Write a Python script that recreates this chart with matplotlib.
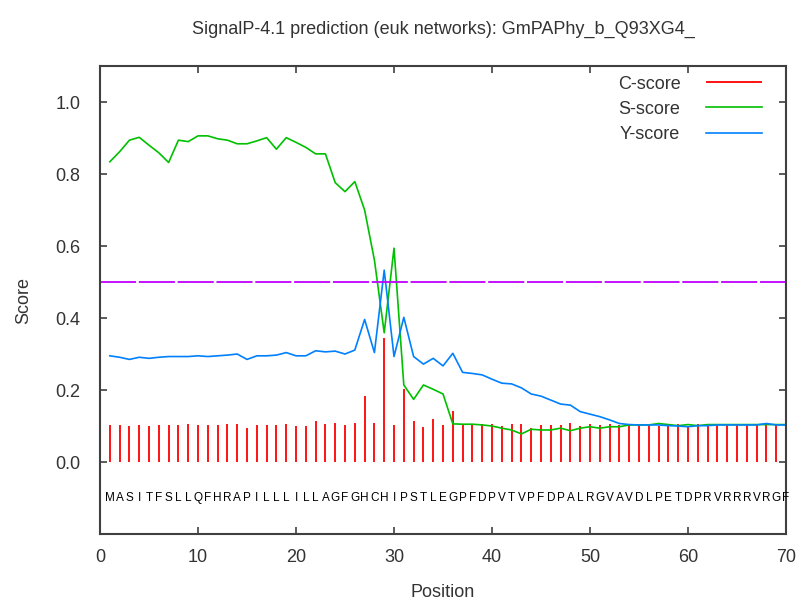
import matplotlib
matplotlib.use("Agg")
import matplotlib.pyplot as plt

plt.rcParams['font.family'] = ['Liberation Sans', 'DejaVu Sans']

title = "SignalP-4.1 prediction (euk networks): GmPAPhy_b_Q93XG4_"
sequence = "MASITFSLLQFHRAPILLLILLAGFGHCHIPSTLEGPFDPVTVPFDPALRGVAVDLPETDPRVRRRVRGF"
positions = list(range(1, 71))

c_score = [0.102, 0.102, 0.099, 0.102, 0.099, 0.102, 0.102, 0.102, 0.105, 0.102,
           0.102, 0.102, 0.105, 0.105, 0.094, 0.102, 0.102, 0.102, 0.105, 0.099,
           0.101, 0.114, 0.106, 0.109, 0.102, 0.109, 0.184, 0.109, 0.344, 0.102,
           0.203, 0.114, 0.098, 0.119, 0.102, 0.142, 0.102, 0.104, 0.106, 0.106,
           0.101, 0.106, 0.106, 0.094, 0.103, 0.103, 0.103, 0.109, 0.100, 0.106,
           0.103, 0.106, 0.103, 0.103, 0.106, 0.103, 0.101, 0.106, 0.106, 0.101,
           0.106, 0.101, 0.103, 0.103, 0.103, 0.103, 0.103, 0.109, 0.103, 0.104]

s_score = [0.834, 0.862, 0.894, 0.902, 0.880, 0.859, 0.832, 0.894, 0.890, 0.906,
           0.906, 0.898, 0.894, 0.884, 0.884, 0.892, 0.901, 0.869, 0.901, 0.888,
           0.874, 0.856, 0.856, 0.776, 0.751, 0.779, 0.700, 0.561, 0.359, 0.594,
           0.214, 0.174, 0.214, 0.202, 0.189, 0.106, 0.105, 0.105, 0.103, 0.100,
           0.094, 0.089, 0.078, 0.091, 0.089, 0.089, 0.094, 0.087, 0.094, 0.098,
           0.094, 0.098, 0.098, 0.103, 0.103, 0.103, 0.107, 0.104, 0.101, 0.104,
           0.101, 0.104, 0.104, 0.104, 0.104, 0.104, 0.104, 0.104, 0.104, 0.104]

y_score = [0.295, 0.291, 0.285, 0.291, 0.288, 0.291, 0.293, 0.293, 0.293, 0.295,
           0.293, 0.295, 0.297, 0.300, 0.285, 0.295, 0.295, 0.297, 0.304, 0.295,
           0.295, 0.309, 0.306, 0.308, 0.300, 0.311, 0.396, 0.304, 0.533, 0.293,
           0.402, 0.293, 0.272, 0.288, 0.267, 0.302, 0.249, 0.246, 0.242, 0.230,
           0.219, 0.217, 0.206, 0.189, 0.183, 0.172, 0.161, 0.158, 0.140, 0.133,
           0.126, 0.117, 0.107, 0.104, 0.103, 0.103, 0.103, 0.101, 0.100, 0.098,
           0.101, 0.101, 0.103, 0.103, 0.103, 0.103, 0.103, 0.107, 0.103, 0.103]

cutoff = 0.5

fig = plt.figure(figsize=(7.97, 6.03), dpi=100)
ax = fig.add_axes([0.1255, 0.1144, 0.8607, 0.7761])

ax.vlines(positions, 0, c_score, color='#ff0000', lw=1.3, label='C-score')
ax.plot(positions, s_score, color='#00c000', lw=1.2, label='S-score')
ax.plot(positions, y_score, color='#0080ff', lw=1.2, label='Y-score')
ax.axhline(cutoff, color='#c000ff', lw=1.3, dashes=(20, 1.5))

for p, aa in zip(positions, sequence):
    ax.text(p, -0.1, aa, ha='center', va='center', fontsize=8.5)

ax.set_xlim(0, 70)
ax.set_ylim(-0.2, 1.1)
ax.set_xticks(range(0, 71, 10))
ax.set_yticks([0.0, 0.2, 0.4, 0.6, 0.8, 1.0])
ax.set_yticklabels(["0.0", "0.2", "0.4", "0.6", "0.8", "1.0"])
ax.tick_params(direction='in', length=5, width=1.2, top=True, right=True,
               labelsize=13, colors='#404040', labelcolor='#333333', pad=14)
ax.tick_params(axis='x', pad=11)
for sp in ax.spines.values():
    sp.set_color('#404040')
    sp.set_linewidth(1.5)

ax.set_xlabel("Position", fontsize=13, color='#333333', labelpad=13)
ax.set_ylabel("Score", fontsize=13, color='#333333', labelpad=17)
ax.set_title(title, fontsize=13, color='#333333', pad=23)

ax.legend(loc='upper right', frameon=False, markerfirst=False, fontsize=13,
          handlelength=3.1, handletextpad=1.4, labelspacing=0.45,
          borderaxespad=0.0, bbox_to_anchor=(0.975, 0.995),
          labelcolor='#333333')

fig.savefig("out.png", dpi=100)
